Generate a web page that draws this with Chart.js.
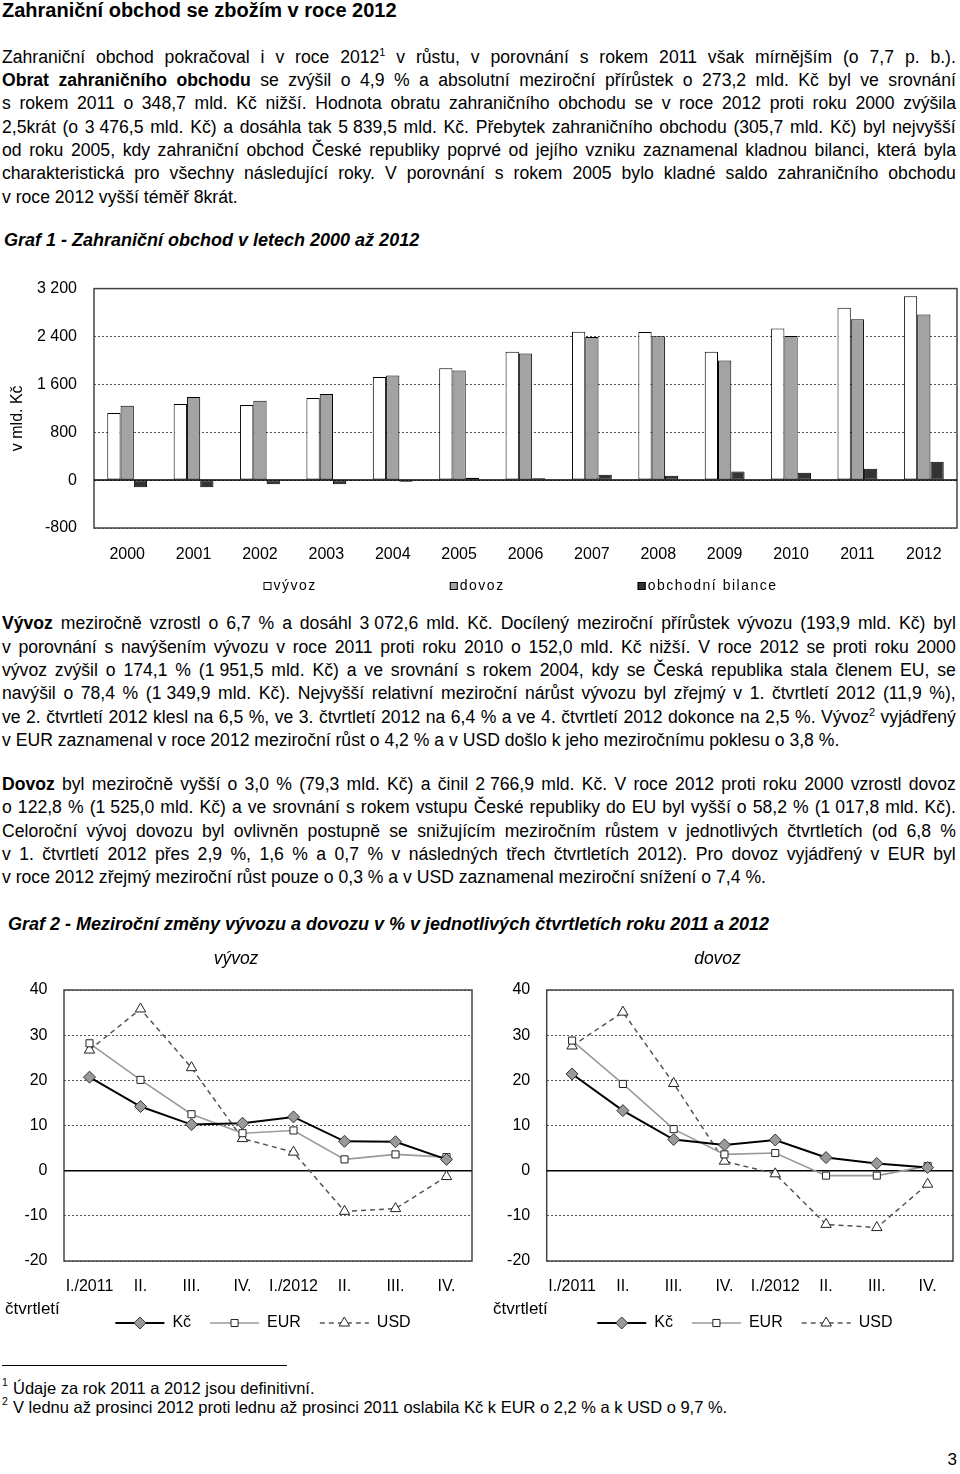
<!DOCTYPE html>
<html><head><meta charset="utf-8">
<script src="https://cdn.jsdelivr.net/npm/chart.js@4/dist/chart.umd.min.js"></script>
<style>
html,body{margin:0;padding:0;background:#fff;}
body{width:960px;height:1474px;position:relative;overflow:hidden;font-family:"Liberation Sans",Arial,sans-serif;color:#000;}
.title{position:absolute;left:2px;top:0;font-size:20px;font-weight:bold;line-height:20px;white-space:nowrap;}
.ln{position:absolute;left:2px;width:954px;font-size:17.6px;line-height:23.33px;height:23.33px;display:flex;justify-content:space-between;white-space:nowrap;}
.ln.last{display:block;}
.ln span{white-space:nowrap;}
.sup{position:relative;top:-7px;font-size:11px;}
.head{position:absolute;font-size:18px;font-weight:bold;font-style:italic;line-height:22px;white-space:nowrap;}
.fn{position:absolute;left:13px;font-size:16.5px;line-height:18.5px;white-space:nowrap;}
.fnsup{position:absolute;left:2px;font-size:10.5px;line-height:12px;}
.rule{position:absolute;left:2px;top:1364.5px;width:285px;height:1.5px;background:#000;}
.pg{position:absolute;right:3px;top:1450px;font-size:17px;line-height:20px;}
.cv{position:absolute;}
</style>
</head>
<body>
<div class="title">Zahraniční obchod se zbožím v roce 2012</div>
<div class="head" style="left:4px;top:229.3px;">Graf 1 - Zahraniční obchod v letech 2000 až 2012</div>
<div class="head" style="left:8px;top:912.5px;">Graf 2 - Meziroční změny vývozu a dovozu v % v jednotlivých čtvrtletích roku 2011 a 2012</div>

<canvas id="c1" class="cv" width="960" height="343" style="left:0;top:262px;"></canvas>
<canvas id="c2" class="cv" width="480" height="400" style="left:0;top:940px;"></canvas>
<canvas id="c3" class="cv" width="480" height="400" style="left:480px;top:940px;"></canvas>

<div class="rule"></div>
<div class="fnsup" style="top:1376px;">1</div>
<div class="fn" style="top:1379px;">Údaje za rok 2011 a 2012 jsou definitivní.</div>
<div class="fnsup" style="top:1394.5px;">2</div>
<div class="fn" style="top:1397.5px;">V lednu až prosinci 2012 proti lednu až prosinci 2011 oslabila Kč k EUR o 2,2 % a k USD o 9,7 %.</div>
<div class="pg">3</div>

<script>
// ---------- Graf 1 data ----------
const years = ['2000','2001','2002','2003','2004','2005','2006','2007','2008','2009','2010','2011','2012'];
const vyvoz   = [1121.1, 1270, 1255, 1371, 1722.7, 1869, 2145, 2480, 2476, 2145, 2532.8, 2878.7, 3072.6];
const dovoz   = [1241.9, 1390, 1326, 1441, 1749.1, 1831, 2115, 2392, 2403, 1999, 2410, 2687.6, 2766.9];
const bilance = [-120.8, -120, -71, -70, -26.4, 38, 30, 88, 73, 146, 123, 191.1, 305.7];
const g1Ticks = [-800, 0, 800, 1600, 2400, 3200];
const g1Names = ['vývoz', 'dovoz', 'obchodní bilance'];
const g1AxisTitle = 'v mld. Kč';

// ---------- Graf 2 data ----------
const quarters = ['I./2011','II.','III.','IV.','I./2012','II.','III.','IV.'];
const vyvozKc  = [20.7, 14.2, 10.2, 10.5, 11.9, 6.5, 6.4, 2.5];
const vyvozEUR = [28.2, 20.1, 12.5, 8.3, 8.9, 2.5, 3.6, 3.0];
const vyvozUSD = [26.7, 35.8, 22.8, 7.1, 4.1, -9.0, -8.4, -1.3];
const dovozKc  = [21.4, 13.3, 6.9, 5.7, 6.8, 2.9, 1.6, 0.7];
const dovozEUR = [28.8, 19.2, 9.2, 3.6, 3.9, -1.1, -1.1, 1.0];
const dovozUSD = [27.6, 35.1, 19.3, 2.1, -0.7, -11.9, -12.6, -3.0];
const g2Ticks = [-20, -10, 0, 10, 20, 30, 40];
const g2Series = ['Kč', 'EUR', 'USD'];

// ---------- text ----------
const P1 = [
 "Zahraniční obchod pokračoval i v roce 2012^1 v růstu, v porovnání s rokem 2011 však mírnějším (o 7,7 p. b.).",
 "*Obrat *zahraničního *obchodu se zvýšil o 4,9 % a absolutní meziroční přírůstek o 273,2 mld. Kč byl ve srovnání",
 "s rokem 2011 o 348,7 mld. Kč nižší. Hodnota obratu zahraničního obchodu se v roce 2012 proti roku 2000 zvýšila",
 "2,5krát (o 3\u00a0476,5 mld. Kč) a dosáhla tak 5\u00a0839,5 mld. Kč. Přebytek zahraničního obchodu (305,7 mld. Kč) byl nejvyšší",
 "od roku 2005, kdy zahraniční obchod České republiky poprvé od jejího vzniku zaznamenal kladnou bilanci, která byla",
 "charakteristická pro všechny následující roky. V porovnání s rokem 2005 bylo kladné saldo zahraničního obchodu",
 "v roce 2012 vyšší téměř 8krát."
];
const P2 = [
 "*Vývoz meziročně vzrostl o 6,7 % a dosáhl 3\u00a0072,6 mld. Kč. Docílený meziroční přírůstek vývozu (193,9 mld. Kč) byl",
 "v porovnání s navýšením vývozu v roce 2011 proti roku 2010 o 152,0 mld. Kč nižší. V roce 2012 se proti roku 2000",
 "vývoz zvýšil o 174,1 % (1\u00a0951,5 mld. Kč) a ve srovnání s rokem 2004, kdy se Česká republika stala členem EU, se",
 "navýšil o 78,4 % (1\u00a0349,9 mld. Kč). Nejvyšší relativní meziroční nárůst vývozu byl zřejmý v 1. čtvrtletí 2012 (11,9 %),",
 "ve 2. čtvrtletí 2012 klesl na 6,5 %, ve 3. čtvrtletí 2012 na 6,4 % a ve 4. čtvrtletí 2012 dokonce na 2,5 %. Vývoz^2 vyjádřený",
 "v EUR zaznamenal v roce 2012 meziroční růst o 4,2 % a v USD došlo k jeho meziročnímu poklesu o 3,8 %."
];
const P3 = [
 "*Dovoz byl meziročně vyšší o 3,0 % (79,3 mld. Kč) a činil 2\u00a0766,9 mld. Kč. V roce 2012 proti roku 2000 vzrostl dovoz",
 "o 122,8 % (1\u00a0525,0 mld. Kč) a ve srovnání s rokem vstupu České republiky do EU byl vyšší o 58,2 % (1\u00a0017,8 mld. Kč).",
 "Celoroční vývoj dovozu byl ovlivněn postupně se snižujícím meziročním růstem v jednotlivých čtvrtletích (od 6,8 %",
 "v 1. čtvrtletí 2012 přes 2,9 %, 1,6 % a 0,7 % v následných třech čtvrtletích 2012). Pro dovoz vyjádřený v EUR byl",
 "v roce 2012 zřejmý meziroční růst pouze o 0,3 % a v USD zaznamenal meziroční snížení o 7,4 %."
];
const PITCH = 23.33;

function makeWord(w){
  const span = document.createElement('span');
  let bold = false;
  if (w.startsWith('*')) { bold = true; w = w.slice(1); }
  if (bold) span.style.fontWeight = 'bold';
  const k = w.indexOf('^');
  if (k >= 0) {
    span.appendChild(document.createTextNode(w.slice(0,k)));
    const s = document.createElement('span'); s.className = 'sup'; s.textContent = w.slice(k+1);
    span.appendChild(s);
  } else span.textContent = w;
  return span;
}
function buildPara(lines, top){
  lines.forEach((line, i) => {
    const last = i === lines.length - 1;
    const div = document.createElement('div');
    div.className = 'ln' + (last ? ' last' : '');
    div.style.top = (top + i * PITCH) + 'px';
    const words = line.split(' ');
    words.forEach((w, j) => {
      div.appendChild(makeWord(w));
      if (last && j < words.length - 1) div.appendChild(document.createTextNode(' '));
    });
    document.body.appendChild(div);
    if (!last) {
      const spans = Array.from(div.children);
      const total = spans.reduce((s, el) => s + el.getBoundingClientRect().width, 0);
      const avail = 954 - 3 * (spans.length - 1);
      if (total > avail) div.style.letterSpacing = (-(total - avail) / line.length).toFixed(3) + 'px';
    }
  });
}
buildPara(P1, 45.6);
buildPara(P2, 612.3);
buildPara(P3, 773);

// ---------- Chart.js ----------
Chart.defaults.font.family = "'Liberation Sans', Arial, sans-serif";
Chart.defaults.color = '#000';
Chart.defaults.animation = false;

const fmt = v => { const s = String(Math.abs(v)); const f = s.length > 3 ? s.slice(0, -3) + ' ' + s.slice(-3) : s; return (v < 0 ? '-' : '') + f; };

const framePlugin = {
  id: 'frame',
  beforeDatasetsDraw(chart, args, o) {
    const {ctx, chartArea: ar} = chart; const y = chart.scales.y;
    ctx.save();
    ctx.strokeStyle = o.color; ctx.lineWidth = o.width; ctx.setLineDash([]);
    ctx.strokeRect(ar.left, ar.top, ar.width, ar.height);
    const z = y.getPixelForValue(0);
    ctx.beginPath(); ctx.strokeStyle = o.zeroColor; ctx.lineWidth = o.zeroWidth;
    ctx.moveTo(ar.left, z); ctx.lineTo(ar.right, z); ctx.stroke();
    if (o.yTitle) {
      ctx.translate(o.yTitleX, (ar.top + ar.bottom) / 2 + o.yTitleDY);
      ctx.rotate(-Math.PI / 2);
      ctx.font = o.yTitleFont; ctx.fillStyle = '#000'; ctx.textAlign = 'center'; ctx.textBaseline = 'middle';
      ctx.fillText(o.yTitle, 0, 0);
    }
    ctx.restore();
  }
};

function drawMarker(ctx, style, x, y, r){
  ctx.beginPath();
  if (style === 'rectRot') { ctx.moveTo(x - r, y); ctx.lineTo(x, y - r); ctx.lineTo(x + r, y); ctx.lineTo(x, y + r); ctx.closePath(); }
  else if (style === 'rect') { const s = Math.SQRT1_2 * r; ctx.rect(x - s, y - s, 2 * s, 2 * s); }
  else if (style === 'triangle') { let a = 0; ctx.moveTo(x + Math.sin(a) * r, y - Math.cos(a) * r); a += 2 * Math.PI / 3; ctx.lineTo(x + Math.sin(a) * r, y - Math.cos(a) * r); a += 2 * Math.PI / 3; ctx.lineTo(x + Math.sin(a) * r, y - Math.cos(a) * r); ctx.closePath(); }
  else { ctx.arc(x, y, r, 0, Math.PI * 2); }
}

const docLegend = {
  id: 'docLegend',
  afterDraw(chart, args, o) {
    const ctx = chart.ctx, ar = chart.chartArea;
    ctx.save();
    ctx.font = o.font;
    if ('letterSpacing' in ctx) ctx.letterSpacing = o.letterSpacing || '0px';
    const items = chart.data.datasets.map(ds => { const tw = ctx.measureText(ds.label).width; return {ds, w: o.symbolWidth + o.symbolGap + tw}; });
    const total = items.reduce((s, it) => s + it.w, 0) + o.itemGap * (items.length - 1);
    let x = (ar.left + ar.right) / 2 + o.shift - total / 2;
    const y = ar.bottom + o.offsetY;
    items.forEach(it => {
      const ds = it.ds;
      if (o.symbol === 'box') {
        const b = o.symbolWidth;
        ctx.fillStyle = ds.backgroundColor; ctx.fillRect(x, y - b / 2, b, b);
        ctx.strokeStyle = '#000'; ctx.lineWidth = 1; ctx.strokeRect(x + 0.5, y - b / 2 + 0.5, b - 1, b - 1);
      } else {
        ctx.save();
        ctx.strokeStyle = ds.borderColor; ctx.lineWidth = ds.borderWidth; ctx.setLineDash(ds.borderDash || []);
        ctx.beginPath(); ctx.moveTo(x, y); ctx.lineTo(x + o.symbolWidth, y); ctx.stroke();
        ctx.setLineDash([]);
        drawMarker(ctx, ds.pointStyle, x + o.symbolWidth / 2, y, ds.pointRadius);
        ctx.fillStyle = ds.pointBackgroundColor; ctx.fill();
        ctx.strokeStyle = ds.pointBorderColor; ctx.lineWidth = ds.pointBorderWidth; ctx.stroke();
        ctx.restore();
      }
      ctx.fillStyle = '#000'; ctx.textBaseline = 'middle'; ctx.textAlign = 'left';
      ctx.fillText(ds.label, x + o.symbolWidth + o.symbolGap, y);
      x += it.w + o.itemGap;
    });
    if (o.note) {
      ctx.font = o.noteFont; if ('letterSpacing' in ctx) ctx.letterSpacing = '0px';
      ctx.textAlign = 'left'; ctx.textBaseline = 'middle';
      ctx.fillText(o.note, o.noteX, ar.bottom + o.noteDY);
    }
    ctx.restore();
  }
};

// Graf 1
new Chart(document.getElementById('c1'), {
  type: 'bar',
  data: {
    labels: years,
    datasets: [
      {label: g1Names[0], data: vyvoz, backgroundColor: '#ffffff', borderColor: '#000', borderWidth: 1, borderSkipped: false},
      {label: g1Names[1], data: dovoz, backgroundColor: '#a3a3a3', borderColor: '#000', borderWidth: 1, borderSkipped: false},
      {label: g1Names[2], data: bilance, backgroundColor: '#333333', borderColor: '#000', borderWidth: 1, borderSkipped: false}
    ]
  },
  options: {
    responsive: false,
    layout: {padding: {top: 18, right: 3, left: 0, bottom: 0}},
    datasets: {bar: {categoryPercentage: 0.6, barPercentage: 1.0}},
    plugins: {
      legend: {display: false}, tooltip: {enabled: false},
      frame: {color: '#444', width: 1.5, zeroColor: '#000', zeroWidth: 1.5,
              yTitle: g1AxisTitle, yTitleX: 18, yTitleDY: 10, yTitleFont: "16px 'Liberation Sans', Arial, sans-serif"},
      docLegend: {symbol: 'box', font: "14px 'Liberation Sans', Arial, sans-serif", letterSpacing: '1.5px', symbolWidth: 8, symbolGap: 2, itemGap: 133, shift: -5, offsetY: 58}
    },
    scales: {
      x: {grid: {display: false, drawTicks: false}, border: {display: false}, ticks: {font: {size: 16}, color: '#000', padding: 17, maxRotation: 0, autoSkip: false}, afterFit(s) { s.height = 77; }},
      y: {min: -800, max: 3200,
          afterBuildTicks(s) { s.ticks = g1Ticks.map(v => ({value: v})); },
          ticks: {font: {size: 16}, color: '#000', padding: 17, callback: v => fmt(v)},
          grid: {color: '#555', lineWidth: 1, drawTicks: false, borderDash: [2, 2]},
          border: {display: false, dash: [2, 2]},
          afterFit(s) { s.width = 94; }}
    }
  },
  plugins: [framePlugin, docLegend]
});

// Graf 2
function lineChart(id, title, kc, eur, usd, axisW, padRight, noteX){
  return new Chart(document.getElementById(id), {
    type: 'line',
    data: {
      labels: quarters,
      datasets: [
        {label: g2Series[0], data: kc, borderColor: '#000', borderWidth: 2, pointStyle: 'rectRot', pointRadius: 6, pointBackgroundColor: '#9a9a9a', pointBorderColor: '#333', pointBorderWidth: 1, tension: 0},
        {label: g2Series[1], data: eur, borderColor: '#9a9a9a', borderWidth: 1.6, pointStyle: 'rect', pointRadius: 5, pointBackgroundColor: '#fff', pointBorderColor: '#222', pointBorderWidth: 1, tension: 0},
        {label: g2Series[2], data: usd, borderColor: '#555', borderWidth: 1.5, borderDash: [5, 4], pointStyle: 'triangle', pointRadius: 6, pointBackgroundColor: '#fff', pointBorderColor: '#222', pointBorderWidth: 1, tension: 0}
      ]
    },
    options: {
      responsive: false,
      layout: {padding: {top: 0, right: padRight, left: 0, bottom: 0}},
      plugins: {
        legend: {display: false}, tooltip: {enabled: false},
        title: {display: true, text: title, font: {size: 17.5, style: 'italic', weight: 'normal'}, color: '#000', padding: {top: 9, bottom: 20}},
        frame: {color: '#444', width: 1.5, zeroColor: '#000', zeroWidth: 1.5},
        docLegend: {symbol: 'line', font: "16px 'Liberation Sans', Arial, sans-serif", letterSpacing: '0px', symbolWidth: 49, symbolGap: 8, itemGap: 19, shift: -5, offsetY: 62,
                    note: 'čtvrtletí', noteFont: "17px 'Liberation Sans', Arial, sans-serif", noteX: noteX, noteDY: 48.5}
      },
      scales: {
        x: {offset: true, grid: {display: false, drawTicks: false}, border: {display: false}, ticks: {font: {size: 16}, color: '#000', padding: 16.4, maxRotation: 0, autoSkip: false}, afterFit(s) { s.height = 79; }},
        y: {min: -20, max: 40,
            afterBuildTicks(s) { s.ticks = g2Ticks.map(v => ({value: v})); },
            ticks: {font: {size: 16}, color: '#000', padding: 16.5},
            grid: {color: '#555', lineWidth: 1, drawTicks: false, borderDash: [2, 2]},
            border: {display: false, dash: [2, 2]},
            afterFit(s) { s.width = axisW; }}
      }
    },
    plugins: [framePlugin, docLegend]
  });
}
lineChart('c2', 'vývoz', vyvozKc, vyvozEUR, vyvozUSD, 64, 8, 5);
lineChart('c3', 'dovoz', dovozKc, dovozEUR, dovozUSD, 66.7, 5, 13);
</script>
</body></html>
